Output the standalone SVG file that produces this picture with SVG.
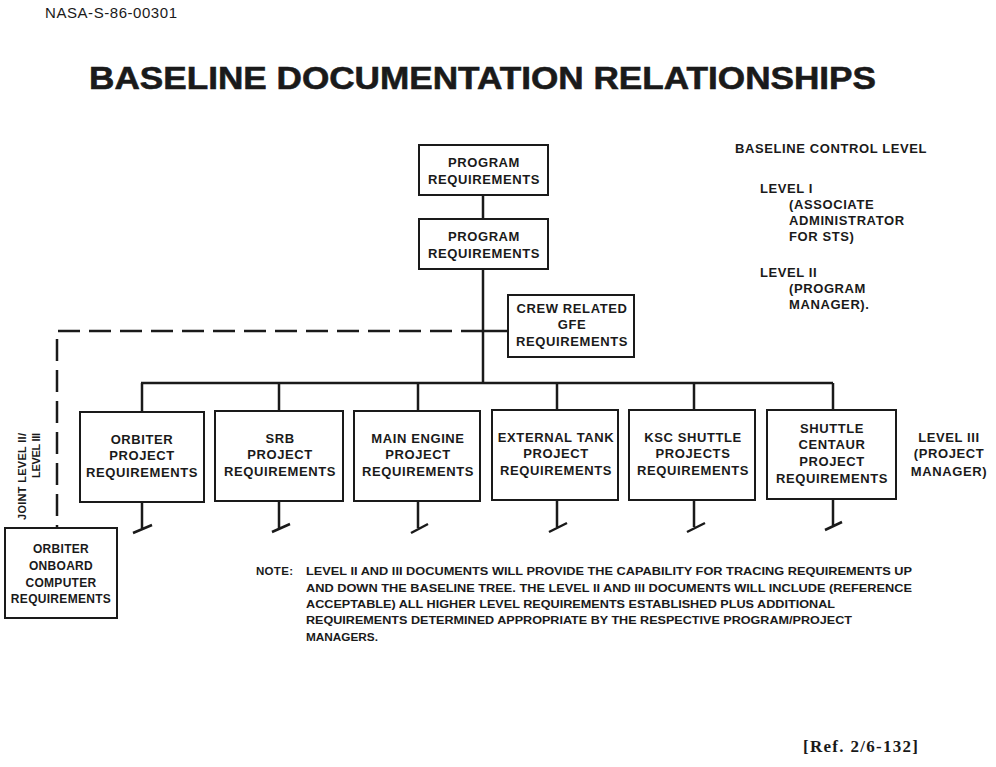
<svg xmlns="http://www.w3.org/2000/svg" width="996" height="767" viewBox="0 0 996 767">
<style>
.box{fill:#fff;stroke:#1a1a1a;stroke-width:2}
.t{font-family:"Liberation Sans",Arial,sans-serif;font-weight:bold;font-size:13px;letter-spacing:0.6px;fill:#1a1a1a;text-anchor:middle}
.l{font-family:"Liberation Sans",Arial,sans-serif;font-weight:bold;font-size:13px;letter-spacing:0.6px;fill:#1a1a1a}
.n{font-family:"Liberation Sans",Arial,sans-serif;font-weight:bold;font-size:11.5px;fill:#1a1a1a}
.c{stroke:#1a1a1a;stroke-width:2.5;fill:none}
.d{stroke:#1a1a1a;stroke-width:2.5;fill:none;stroke-dasharray:22 9}
</style>
<rect width="996" height="767" fill="#fff"/>
<text x="45" y="18" font-family="Liberation Sans,Arial,sans-serif" font-size="15" fill="#1a1a1a" textLength="132">NASA-S-86-00301</text>
<text x="89" y="89" font-family="Liberation Sans,Arial,sans-serif" font-weight="bold" font-size="32" fill="#1a1a1a" stroke="#1a1a1a" stroke-width="0.6" textLength="787" lengthAdjust="spacingAndGlyphs">BASELINE DOCUMENTATION RELATIONSHIPS</text>

<g id="connectors">
<line class="c" x1="483" y1="195" x2="483" y2="219"/>
<line class="c" x1="483" y1="269" x2="483" y2="383"/>
<line class="c" x1="483" y1="331" x2="508" y2="331"/>
<polyline class="d" points="483,331 57,331 57,528"/>
<line class="c" x1="141" y1="383" x2="833" y2="383"/>
<line class="c" x1="142" y1="383" x2="142" y2="412"/>
<line class="c" x1="279" y1="383" x2="279" y2="411"/>
<line class="c" x1="418" y1="383" x2="418" y2="411"/>
<line class="c" x1="557" y1="383" x2="557" y2="410"/>
<line class="c" x1="694" y1="383" x2="694" y2="410"/>
<line class="c" x1="833" y1="383" x2="833" y2="410"/>
<path class="c" d="M142,502 V529 M133,533 L152,525"/>
<path class="c" d="M279,501 V528 M272,532 L290,524"/>
<path class="c" d="M418,501 V528 M411,533 L428,524"/>
<path class="c" d="M557,500 V527 M549,532 L567,523"/>
<path class="c" d="M694,500 V527 M687,532 L705,523"/>
<path class="c" d="M833,499 V526 M825,530 L842,522"/>
</g>

<g id="prog1">
<rect class="box" x="419" y="145" width="129" height="50"/>
<text class="t" x="484" y="167">PROGRAM</text>
<text class="t" x="484" y="184">REQUIREMENTS</text>
</g>
<g id="prog2">
<rect class="box" x="419" y="219" width="129" height="50"/>
<text class="t" x="484" y="241">PROGRAM</text>
<text class="t" x="484" y="258">REQUIREMENTS</text>
</g>
<g id="crew">
<rect class="box" x="508" y="295" width="126" height="62"/>
<text class="t" x="572" y="313">CREW RELATED</text>
<text class="t" x="572" y="329">GFE</text>
<text class="t" x="572" y="346">REQUIREMENTS</text>
</g>
<g id="orbiter">
<rect class="box" x="80" y="412" width="124" height="90"/>
<text class="t" x="142" y="444">ORBITER</text>
<text class="t" x="142" y="460">PROJECT</text>
<text class="t" x="142" y="477">REQUIREMENTS</text>
</g>
<g id="srb">
<rect class="box" x="215" y="411" width="128" height="90"/>
<text class="t" x="280" y="443">SRB</text>
<text class="t" x="280" y="459">PROJECT</text>
<text class="t" x="280" y="476">REQUIREMENTS</text>
</g>
<g id="mainengine">
<rect class="box" x="354" y="411" width="126" height="90"/>
<text class="t" x="418" y="443">MAIN ENGINE</text>
<text class="t" x="418" y="459">PROJECT</text>
<text class="t" x="418" y="476">REQUIREMENTS</text>
</g>
<g id="externaltank">
<rect class="box" x="492" y="410" width="126" height="90"/>
<text class="t" x="556" y="442">EXTERNAL TANK</text>
<text class="t" x="556" y="458">PROJECT</text>
<text class="t" x="556" y="475">REQUIREMENTS</text>
</g>
<g id="ksc">
<rect class="box" x="629" y="410" width="126" height="90"/>
<text class="t" x="693" y="442">KSC SHUTTLE</text>
<text class="t" x="693" y="458">PROJECTS</text>
<text class="t" x="693" y="475">REQUIREMENTS</text>
</g>
<g id="centaur">
<rect class="box" x="767" y="410" width="129" height="89"/>
<text class="t" x="832" y="433">SHUTTLE</text>
<text class="t" x="832" y="449">CENTAUR</text>
<text class="t" x="832" y="466">PROJECT</text>
<text class="t" x="832" y="483">REQUIREMENTS</text>
</g>
<g id="onboard">
<rect class="box" x="5" y="528" width="112" height="90"/>
<text class="t" x="61" y="553" style="font-size:12px;letter-spacing:0.3px">ORBITER</text>
<text class="t" x="61" y="570" style="font-size:12px;letter-spacing:0.3px">ONBOARD</text>
<text class="t" x="61" y="587" style="font-size:12px;letter-spacing:0.3px">COMPUTER</text>
<text class="t" x="61" y="603" style="font-size:12px;letter-spacing:0.3px">REQUIREMENTS</text>
</g>

<g id="joint-label">
<text class="n" transform="translate(26,433) rotate(-90)" text-anchor="end" style="font-size:11px" textLength="87">JOINT LEVEL II/</text>
<text class="n" transform="translate(40,433) rotate(-90)" text-anchor="end" style="font-size:11px" textLength="45">LEVEL III</text>
</g>

<g id="control-levels">
<text class="l" x="735" y="153">BASELINE CONTROL LEVEL</text>
<text class="l" x="760" y="193">LEVEL I</text>
<text class="l" x="789" y="209">(ASSOCIATE</text>
<text class="l" x="789" y="225">ADMINISTRATOR</text>
<text class="l" x="789" y="241">FOR STS)</text>
<text class="l" x="760" y="277">LEVEL II</text>
<text class="l" x="789" y="293">(PROGRAM</text>
<text class="l" x="789" y="309">MANAGER).</text>
</g>
<g id="level3">
<text class="t" x="949" y="442">LEVEL III</text>
<text class="t" x="949" y="458">(PROJECT</text>
<text class="t" x="949" y="476">MANAGER)</text>
</g>

<g id="note">
<text class="n" x="256" y="575" textLength="37">NOTE:</text>
<text class="n" x="306" y="575" textLength="606" lengthAdjust="spacingAndGlyphs">LEVEL II AND III DOCUMENTS WILL PROVIDE THE CAPABILITY FOR TRACING REQUIREMENTS UP</text>
<text class="n" x="306" y="592" textLength="606" lengthAdjust="spacingAndGlyphs">AND DOWN THE BASELINE TREE. THE LEVEL II AND III DOCUMENTS WILL INCLUDE (REFERENCE</text>
<text class="n" x="306" y="608" textLength="529" lengthAdjust="spacingAndGlyphs">ACCEPTABLE) ALL HIGHER LEVEL REQUIREMENTS ESTABLISHED PLUS ADDITIONAL</text>
<text class="n" x="306" y="624" textLength="546" lengthAdjust="spacingAndGlyphs">REQUIREMENTS DETERMINED APPROPRIATE BY THE RESPECTIVE PROGRAM/PROJECT</text>
<text class="n" x="306" y="641" textLength="72" lengthAdjust="spacingAndGlyphs">MANAGERS.</text>
</g>

<text x="803" y="752" font-family="Liberation Serif,Times New Roman,serif" font-weight="bold" font-size="17" fill="#1a1a1a" textLength="115">[Ref. 2/6-132]</text>
</svg>
